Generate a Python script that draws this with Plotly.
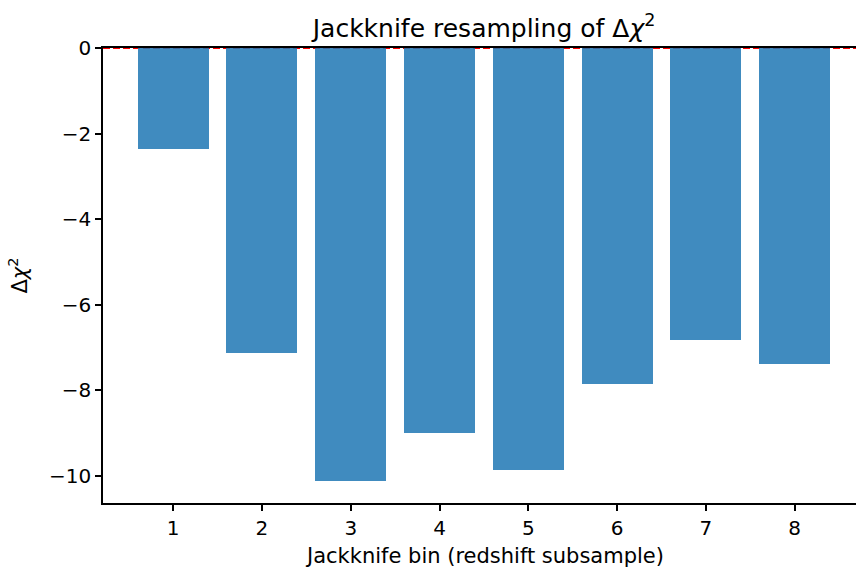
import plotly.graph_objects as go

bins = [1, 2, 3, 4, 5, 6, 7, 8]
delta_chi2 = [-2.35, -7.13, -10.12, -9.00, -9.87, -7.84, -6.83, -7.39]
y_ticks = [0, -2, -4, -6, -8, -10]

FONT = "DejaVu Sans"
PLOT_H = 568 - 48 - 65
PLOT_W = 856 - 103
CX = (484 - 103) / PLOT_W  # centre of the (clipped) axes box

fig = go.Figure()
fig.add_trace(go.Bar(
    x=bins, y=delta_chi2, width=0.8,
    marker=dict(color="rgba(31,119,180,0.85)", line=dict(width=0)),
))

# dashed red reference line at zero (half clipped by top of axes)
fig.add_shape(type="line", xref="paper", yref="y", x0=0, x1=1, y0=0, y1=0,
              line=dict(color="red", width=2.2, dash="7px,3px"), layer="below")

fig.add_annotation(text="Jackknife bin (redshift subsample)",
                   xref="paper", yref="paper", x=CX, y=-(556 - 503) / PLOT_H,
                   xanchor="center", yanchor="middle", showarrow=False,
                   font=dict(family=FONT, size=21, color="black"))

fig.update_layout(
    width=856, height=568,
    margin=dict(l=103, r=0, t=48, b=65),
    paper_bgcolor="white", plot_bgcolor="white",
    showlegend=False,
    font=dict(family=FONT, color="black", size=20),
    title=dict(text="Jackknife resampling of Δ<i>χ</i><sup>2</sup>",
               x=CX, xref="paper", xanchor="center",
               y=1 - 28 / 568, yref="container", yanchor="middle",
               font=dict(family=FONT, size=25, color="black")),
    bargap=0,
)

fig.update_xaxes(
    range=[0.21, 8.69], tickvals=bins, ticktext=[str(b) for b in bins],
    showgrid=False, zeroline=False,
    showline=True, linecolor="black", linewidth=1.5, mirror=True,
    ticks="outside", ticklen=6, tickwidth=1.5, tickcolor="black",
    tickfont=dict(family=FONT, size=20, color="black"),
)
fig.update_yaxes(
    range=[-10.63, 0], tickvals=y_ticks,
    showgrid=False, zeroline=False,
    showline=True, linecolor="black", linewidth=1.5, mirror=False,
    ticks="outside", ticklen=6, tickwidth=1.5, tickcolor="black",
    tickfont=dict(family=FONT, size=20, color="black"),
    title=dict(text="Δ<i>χ</i><sup>2</sup>", standoff=16,
               font=dict(family=FONT, size=21, color="black")),
)

fig.write_html("out.html")
